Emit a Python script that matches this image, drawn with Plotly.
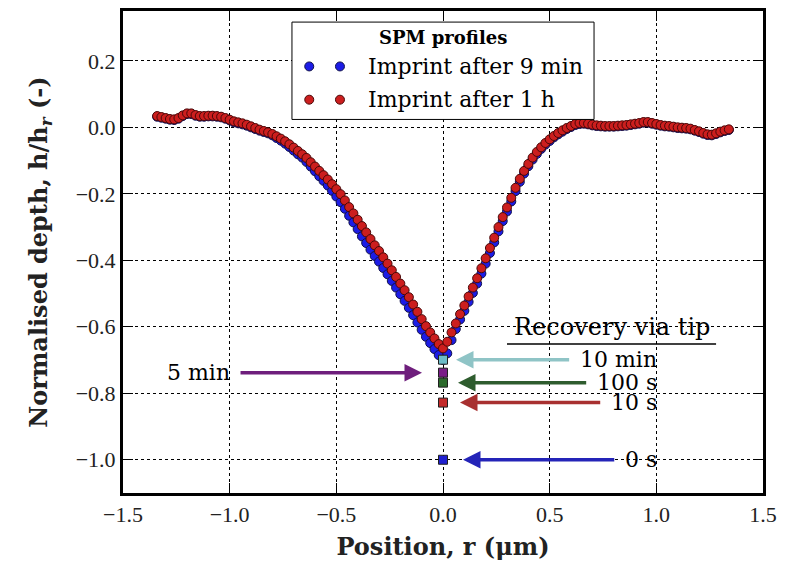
import plotly.graph_objects as go

# ---------------- data ----------------
positions = [
    -1.34, -1.32, -1.30, -1.28, -1.26, -1.24, -1.22, -1.20, -1.18, -1.16,
    -1.14, -1.12, -1.10, -1.08, -1.06, -1.04, -1.02, -1.00, -0.98, -0.96,
    -0.94, -0.92, -0.90, -0.88, -0.86, -0.84, -0.82, -0.80, -0.78, -0.76,
    -0.74, -0.72, -0.70, -0.68, -0.66, -0.64, -0.62, -0.60, -0.58, -0.56,
    -0.54, -0.52, -0.50, -0.48, -0.46, -0.44, -0.42, -0.40, -0.38, -0.36,
    -0.34, -0.32, -0.30, -0.28, -0.26, -0.24, -0.22, -0.20, -0.18, -0.16,
    -0.14, -0.12, -0.10, -0.08, -0.06, -0.04, -0.02, 0.00, 0.02, 0.04,
    0.06, 0.08, 0.10, 0.12, 0.14, 0.16, 0.18, 0.20, 0.22, 0.24,
    0.26, 0.28, 0.30, 0.32, 0.34, 0.36, 0.38, 0.40, 0.42, 0.44,
    0.46, 0.48, 0.50, 0.52, 0.54, 0.56, 0.58, 0.60, 0.62, 0.64,
    0.66, 0.68, 0.70, 0.72, 0.74, 0.76, 0.78, 0.80, 0.82, 0.84,
    0.86, 0.88, 0.90, 0.92, 0.94, 0.96, 0.98, 1.00, 1.02, 1.04,
    1.06, 1.08, 1.10, 1.12, 1.14, 1.16, 1.18, 1.20, 1.22, 1.24,
    1.26, 1.28, 1.30, 1.32, 1.34,
]

depth_9min = [
    0.032, 0.029, 0.026, 0.023, 0.022, 0.026, 0.034, 0.040, 0.040, 0.035,
    0.032, 0.032, 0.033, 0.033, 0.032, 0.030, 0.026, 0.021, 0.015, 0.012,
    0.009, 0.005, 0.000, -0.005, -0.010, -0.014, -0.018, -0.024, -0.032, -0.040,
    -0.049, -0.059, -0.070, -0.081, -0.091, -0.104, -0.118, -0.132, -0.147, -0.161,
    -0.175, -0.191, -0.208, -0.225, -0.245, -0.266, -0.286, -0.306, -0.328, -0.348,
    -0.368, -0.387, -0.404, -0.423, -0.442, -0.462, -0.482, -0.502, -0.522, -0.543,
    -0.565, -0.587, -0.609, -0.630, -0.649, -0.667, -0.685, -0.700, -0.680, -0.640,
    -0.607, -0.578, -0.552, -0.525, -0.498, -0.470, -0.440, -0.410, -0.378, -0.346,
    -0.313, -0.282, -0.253, -0.223, -0.192, -0.164, -0.139, -0.117, -0.097, -0.080,
    -0.065, -0.052, -0.041, -0.030, -0.021, -0.013, -0.005, 0.001, 0.007, 0.010,
    0.011, 0.009, 0.006, 0.004, 0.003, 0.002, 0.002, 0.002, 0.003, 0.004,
    0.005, 0.007, 0.009, 0.011, 0.014, 0.014, 0.011, 0.008, 0.005, 0.003,
    0.002, 0.000, -0.002, -0.003, -0.004, -0.006, -0.010, -0.014, -0.019, -0.023,
    -0.024, -0.020, -0.015, -0.011, -0.008,
]

depth_1h = [
    0.034, 0.031, 0.028, 0.025, 0.024, 0.028, 0.036, 0.042, 0.042, 0.037,
    0.034, 0.034, 0.035, 0.035, 0.034, 0.032, 0.028, 0.023, 0.018, 0.015,
    0.012, 0.008, 0.003, -0.002, -0.007, -0.011, -0.015, -0.020, -0.027, -0.034,
    -0.042, -0.051, -0.061, -0.071, -0.081, -0.092, -0.105, -0.118, -0.131, -0.144,
    -0.157, -0.171, -0.186, -0.201, -0.220, -0.240, -0.259, -0.278, -0.297, -0.316,
    -0.336, -0.355, -0.372, -0.391, -0.410, -0.430, -0.450, -0.470, -0.490, -0.511,
    -0.533, -0.555, -0.577, -0.598, -0.617, -0.635, -0.652, -0.665, -0.645, -0.617,
    -0.590, -0.562, -0.536, -0.509, -0.482, -0.454, -0.424, -0.394, -0.363, -0.332,
    -0.300, -0.270, -0.241, -0.212, -0.182, -0.155, -0.131, -0.110, -0.091, -0.074,
    -0.060, -0.047, -0.036, -0.026, -0.017, -0.009, -0.002, 0.004, 0.010, 0.013,
    0.013, 0.011, 0.008, 0.006, 0.005, 0.004, 0.004, 0.004, 0.005, 0.006,
    0.007, 0.009, 0.011, 0.013, 0.016, 0.016, 0.013, 0.010, 0.007, 0.005,
    0.004, 0.002, 0.000, -0.001, -0.002, -0.004, -0.008, -0.012, -0.017, -0.021,
    -0.022, -0.018, -0.013, -0.009, -0.006,
]

recovery_labels = ["0 s", "10 s", "100 s", "5 min", "10 min"]
recovery_depth = [-1.000, -0.828, -0.768, -0.738, -0.699]
recovery_position = [0.0, 0.0, 0.0, 0.0, 0.0]
recovery_colors = ["#2020d0", "#c42a2a", "#2c6a2c", "#7a1e88", "#6cbcc8"]
arrow_colors = ["#2424b8", "#a83030", "#2e5c2e", "#6e1e7c", "#8fc4c6"]
label_center = [0.927, 0.894, 0.861, -1.146, 0.821]
arrow_standoff = [20, 17, 15, 21, 13]

x_ticks = [-1.5, -1.0, -0.5, 0.0, 0.5, 1.0, 1.5]
y_ticks = [-1.0, -0.8, -0.6, -0.4, -0.2, 0.0, 0.2]

SERIF = "DejaVu Serif"
TICKFONT = "Liberation Serif"

fig = go.Figure()

fig.add_trace(go.Scatter(
    x=positions, y=depth_9min, mode="markers", name="Imprint after 9 min",
    marker=dict(size=9, color="#1c1ce6", line=dict(color="#10104a", width=1)),
    showlegend=False,
))
fig.add_trace(go.Scatter(
    x=positions, y=depth_1h, mode="markers", name="Imprint after 1 h",
    marker=dict(size=9, color="#cc1e1e", line=dict(color="#4a0808", width=1)),
    showlegend=False,
))
fig.add_trace(go.Scatter(
    x=recovery_position, y=recovery_depth, mode="markers", name="Recovery via tip",
    marker=dict(size=9, symbol="square", color=recovery_colors,
                line=dict(color="#202020", width=1)),
    showlegend=False,
))

# labelled arrows pointing at the recovery squares
for lab, d, px0, cx, st, ac in zip(recovery_labels, recovery_depth, recovery_position,
                                   label_center, arrow_standoff, arrow_colors):
    fig.add_annotation(x=px0, y=d, ax=cx, ay=d, xref="x", yref="y",
                       axref="x", ayref="y", text=lab, showarrow=True,
                       arrowhead=2, arrowsize=1.0, arrowwidth=3.5,
                       arrowcolor=ac, standoff=st, startstandoff=9,
                       xanchor="center", yanchor="middle",
                       font=dict(family=SERIF, size=22, color="black"))

fig.add_annotation(x=0.79, y=-0.60, xref="x", yref="y", text="Recovery via tip",
                   showarrow=False, xanchor="center", yanchor="middle",
                   font=dict(family=SERIF, size=24, color="black"))
fig.add_shape(type="line", xref="x", yref="y", x0=0.30, x1=1.28, y0=-0.652, y1=-0.652,
              line=dict(color="black", width=1.5))

# custom legend (two markers per entry, as in the reference)
fig.add_shape(type="rect", xref="paper", yref="paper", x0=0.264, x1=0.736,
              y0=0.775, y1=0.977, fillcolor="white", line=dict(color="black", width=1),
              layer="above")
legend_entries = [("Imprint after 9 min", "#1c1ce6", "#10104a", 0.885),
                  ("Imprint after 1 h", "#cc1e1e", "#4a0808", 0.816)]
for txt, fc, ec, yy in legend_entries:
    for xx in (0.291, 0.339):
        fig.add_shape(type="circle", xref="paper", yref="paper",
                      xsizemode="pixel", ysizemode="pixel", xanchor=xx, yanchor=yy,
                      x0=-4.5, x1=4.5, y0=-4.5, y1=4.5, fillcolor=fc,
                      line=dict(color=ec, width=1), layer="above")
    fig.add_annotation(x=0.380, y=yy, xref="paper", yref="paper", text=txt,
                       showarrow=False, xanchor="left", yanchor="middle",
                       font=dict(family=SERIF, size=22, color="black"))
fig.add_annotation(x=0.5, y=0.944, xref="paper", yref="paper",
                   text="<b>SPM profiles</b>", showarrow=False,
                   xanchor="center", yanchor="middle",
                   font=dict(family=SERIF, size=18, color="black"))

axis_common = dict(
    showgrid=True, gridcolor="black", griddash="dot", gridwidth=1,
    zeroline=False, showline=True, linecolor="black", linewidth=3,
    mirror="allticks", ticks="inside", ticklen=10, tickwidth=1, tickcolor="black",
    tickfont=dict(family=TICKFONT, size=22, color="#222222"),
    tickformat=".1f",
)

fig.update_xaxes(range=[-1.5, 1.5], tickvals=x_ticks,
                 title=dict(text="<b>Position, r (μm)</b>", standoff=12,
                            font=dict(family=SERIF, size=24, color="#222222")),
                 **axis_common)
fig.update_yaxes(range=[-1.1, 0.35], tickvals=y_ticks,
                 title=dict(text="<b>Normalised depth, h/h<sub><i>r</i></sub> (-)</b>",
                            standoff=22,
                            font=dict(family=SERIF, size=24, color="#222222")),
                 **axis_common)

fig.update_layout(
    width=787, height=569,
    margin=dict(l=123, r=24, t=8, b=76),
    paper_bgcolor="white", plot_bgcolor="white",
    showlegend=False,
)

fig.write_html("out.html")
